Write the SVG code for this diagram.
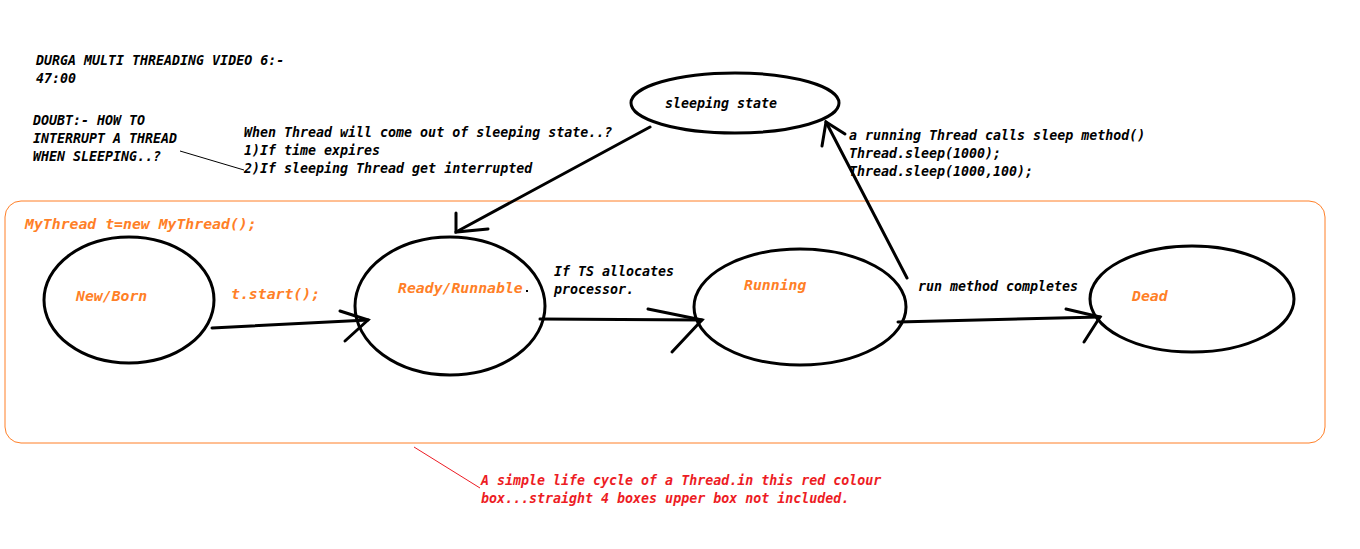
<svg xmlns="http://www.w3.org/2000/svg" width="1360" height="549" viewBox="0 0 1360 549">
<style>
text{font-family:"DejaVu Sans Mono","Liberation Mono",monospace;font-style:italic;font-weight:bold;}
.b{font-size:13.3px;fill:#000;}
.o{font-size:14.8px;fill:#FF7F27;}
.r{font-size:13.3px;fill:#ED1C24;}
.st{fill:none;stroke:#000;stroke-width:3;}
.ln{fill:none;stroke:#000;stroke-width:3;stroke-linecap:round;}
</style>
<rect width="1360" height="549" fill="#fff"/>
<g id="notes">
<text class="b" x="36" y="65">DURGA MULTI THREADING VIDEO 6:-</text>
<text class="b" x="36" y="83">47:00</text>
<text class="b" x="33" y="125">DOUBT:- HOW TO</text>
<text class="b" x="33" y="143">INTERRUPT A THREAD</text>
<text class="b" x="33" y="161">WHEN SLEEPING..?</text>
<line x1="180" y1="151" x2="244" y2="170" stroke="#000" stroke-width="1"/>
<text class="b" x="244" y="137">When Thread will come out of sleeping state..?</text>
<text class="b" x="244" y="155">1)If time expires</text>
<text class="b" x="244" y="173">2)If sleeping Thread get interrupted</text>
</g>
<g id="box">
<rect x="5" y="201" width="1320" height="242" rx="16" fill="none" stroke="#FF7F27" stroke-width="1"/>
<text class="o" x="25" y="229">MyThread t=new MyThread();</text>
</g>
<g id="sleeping">
<ellipse class="st" cx="735" cy="103" rx="104" ry="30"/>
<text class="b" x="665" y="108">sleeping state</text>
</g>
<g id="newborn">
<ellipse class="st" cx="129" cy="300" rx="85" ry="63"/>
<text class="o" x="76" y="301">New/Born</text>
</g>
<g id="ready">
<ellipse class="st" cx="450" cy="306" rx="95" ry="69"/>
<text class="o" x="398" y="293">Ready/Runnable</text>
<rect x="526" y="290" width="2" height="2" fill="#000"/>
</g>
<g id="running">
<ellipse class="st" cx="800" cy="307" rx="106" ry="58"/>
<text class="o" x="744" y="290">Running</text>
</g>
<g id="dead">
<ellipse class="st" cx="1192" cy="299" rx="102" ry="53"/>
<text class="o" x="1132" y="301">Dead</text>
</g>
<g id="connectors">
<line class="ln" x1="650" y1="127" x2="456" y2="232"/>
<polyline class="ln" points="456,213 456,232 488,229"/>
<line class="ln" x1="907" y1="278" x2="826" y2="122"/>
<polyline class="ln" points="845,134 826,122 822,146"/>
<line class="ln" x1="212" y1="328" x2="368" y2="320"/>
<polyline class="ln" points="340,311 368,320 345,341"/>
<line class="ln" x1="540" y1="319" x2="702" y2="320"/>
<polyline class="ln" points="648,309 702,320 672,352"/>
<line class="ln" x1="898" y1="322" x2="1100" y2="317"/>
<polyline class="ln" points="1066,309 1100,317 1084,342"/>
<line x1="414" y1="447" x2="480" y2="488" stroke="#ED1C24" stroke-width="1"/>
</g>
<g id="labels">
<text class="o" x="231" y="299">t.start();</text>
<text class="b" x="554" y="276">If TS allocates</text>
<text class="b" x="554" y="294">processor.</text>
<text class="b" x="849" y="140">a running Thread calls sleep method()</text>
<text class="b" x="849" y="158">Thread.sleep(1000);</text>
<text class="b" x="849" y="176">Thread.sleep(1000,100);</text>
<text class="b" x="918" y="291">run method completes</text>
<text class="r" x="481" y="485">A simple life cycle of a Thread.in this red colour</text>
<text class="r" x="481" y="503">box...straight 4 boxes upper box not included.</text>
</g>
</svg>
